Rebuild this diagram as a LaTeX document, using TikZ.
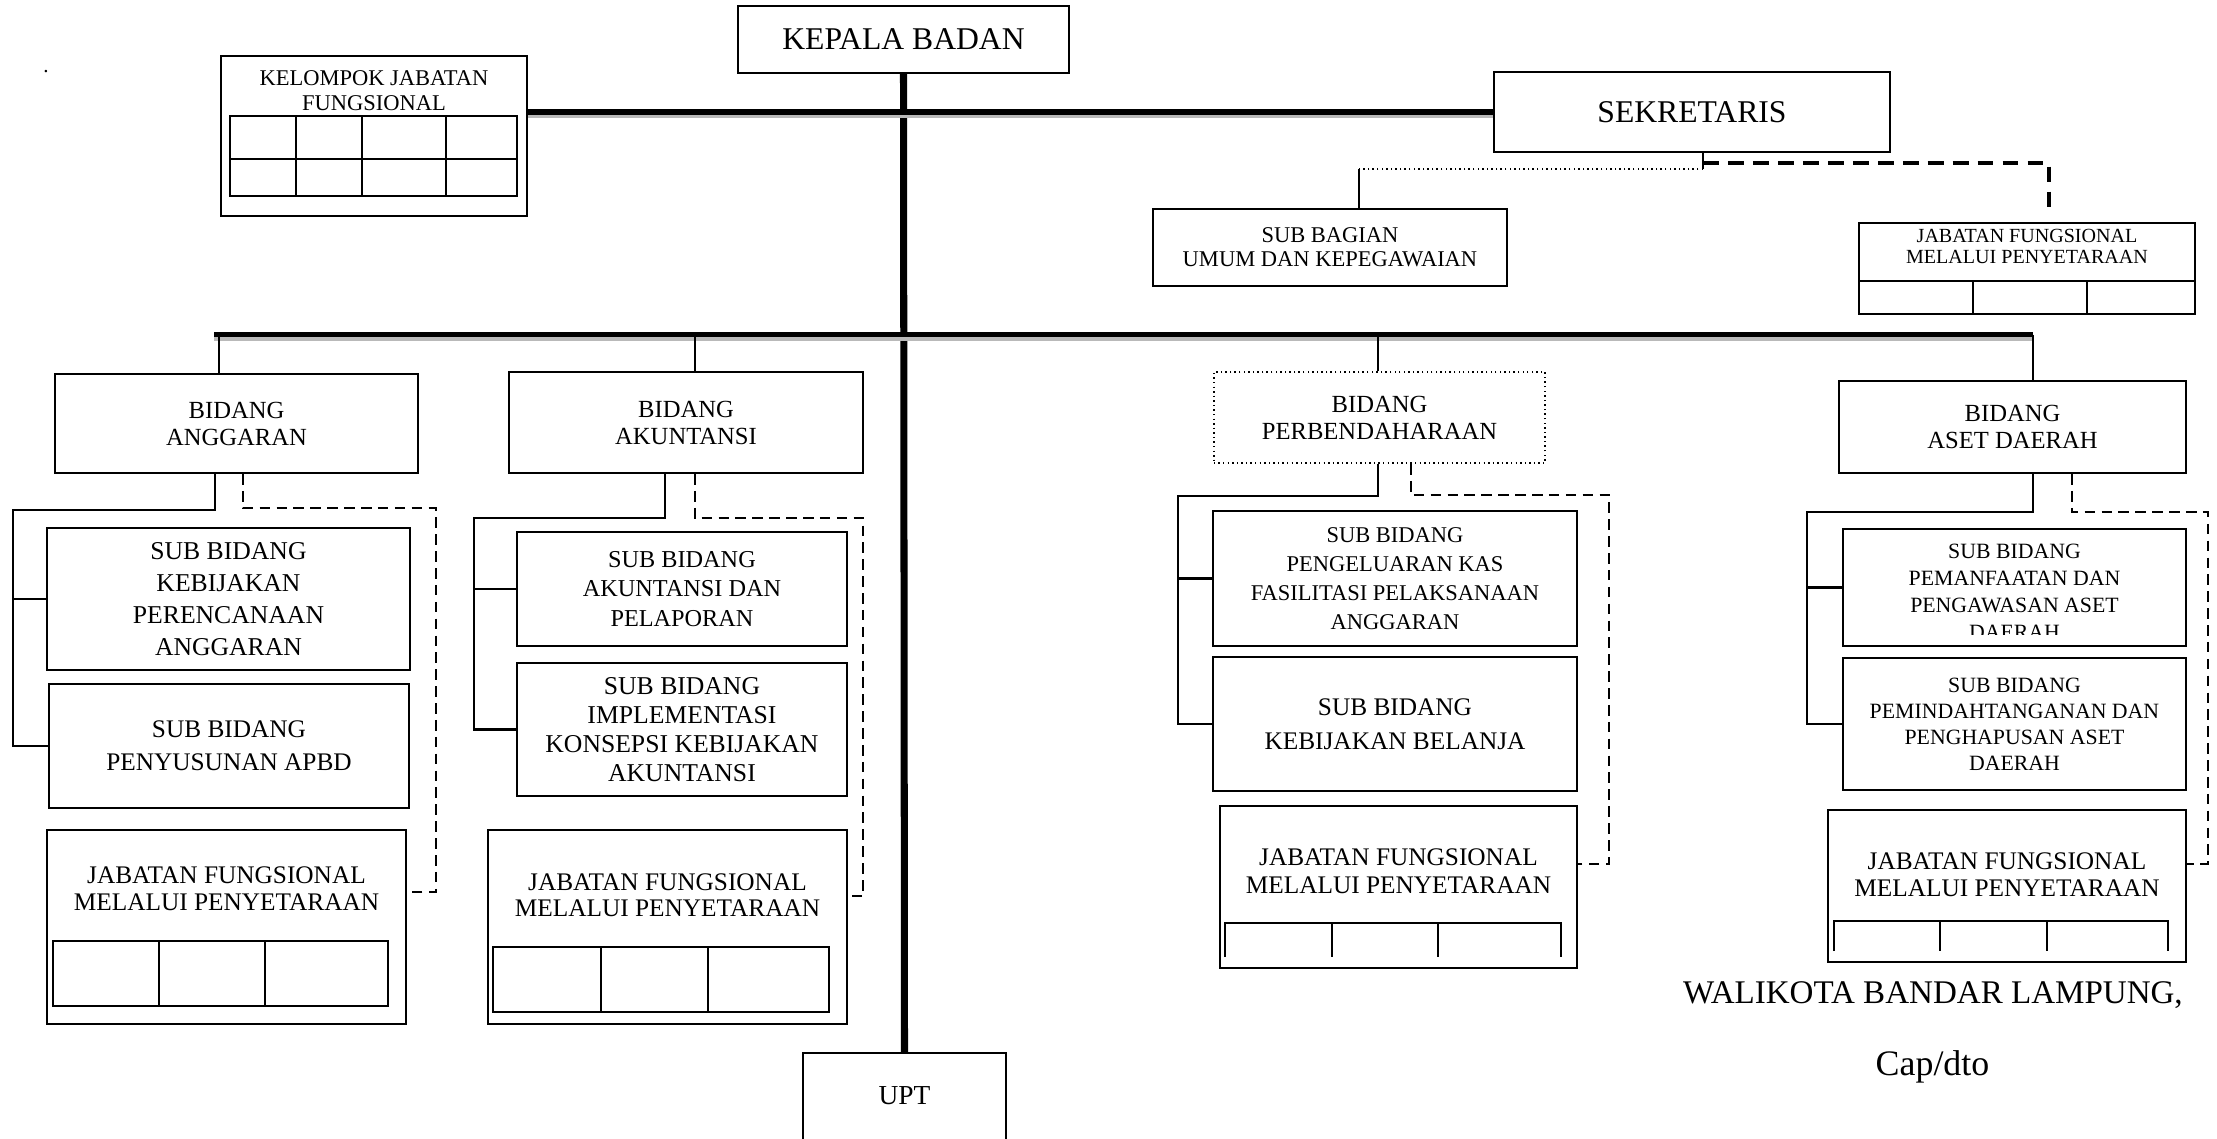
\documentclass[tikz,border=0pt]{standalone}
\usepackage{fontspec}
\setmainfont{Liberation Serif}
\usetikzlibrary{positioning}

\tikzset{
  orgbox/.style={draw, line width=0.6pt, inner sep=0pt, align=center, fill=white},
  dotbox/.style={orgbox, dash pattern=on 0.4pt off 0.9pt},
  txt/.style={inner sep=0pt, align=center},
  fs/.style 2 args={font=\fontsize{#1}{#2}\selectfont},
  conn/.style={line width=0.6pt},
  dashconn/.style={line width=0.6pt, dash pattern=on 3pt off 1.8pt},
  dashthick/.style={line width=0.9pt, dash pattern=on 4.5pt off 2.6pt},
  dotconn/.style={line width=0.5pt, dash pattern=on 0.4pt off 0.9pt},
  mainline/.style={line width=2pt},
  barblack/.style={line width=1.6pt},
  bargray/.style={line width=1pt, gray!55},
  gridline/.style={line width=0.6pt}
}

\begin{document}
\begin{tikzpicture}[x=0.01cm, y=-0.01cm]
\clip (0,0) rectangle (2217,1138);
\fill[white] (0,0) rectangle (2217,1138);

% top level
\node[orgbox, fs={9}{11}, minimum width=3.31cm, minimum height=0.67cm] (kepala) at (903.5,39.5) {KEPALA BADAN};
\node[orgbox, fs={9}{11}, minimum width=3.96cm, minimum height=0.80cm] (sek) at (1692,112) {SEKRETARIS};
\node[orgbox, minimum width=3.06cm, minimum height=1.60cm] (kelompok) at (374,136) {};
\node[txt, fs={6.4}{7.1}] (kelompoktxt) at (374,90.5) {KELOMPOK JABATAN\\FUNGSIONAL};
\draw[gridline] (230,116) rectangle (517,196) (230,159) -- (517,159);
\foreach \gx in {296,362,446}
  \draw[gridline] (\gx,116) -- (\gx,196);
\node[txt, fs={6}{7}] (titik) at (46,72) {.};

% sekretariat
\node[orgbox, fs={6.4}{6.8}, minimum width=3.54cm, minimum height=0.77cm] (subbag) at (1330,247.5) {SUB BAGIAN\\UMUM DAN KEPEGAWAIAN};
\node[orgbox, minimum width=3.36cm, minimum height=0.91cm] (jfsek) at (2027,268.5) {};
\node[txt, fs={5.7}{6}] (jfsektxt) at (2027,246.5) {JABATAN FUNGSIONAL\\MELALUI PENYETARAAN};
\draw[gridline] (1859,281) -- (2195,281);
\foreach \gx in {1973,2087}
  \draw[gridline] (\gx,281) -- (\gx,314);

% bidang
\node[orgbox, fs={7}{7.7}, minimum width=3.63cm, minimum height=0.99cm] (ang) at (236.5,423.5) {BIDANG\\ANGGARAN};
\node[orgbox, fs={7}{7.7}, minimum width=3.54cm, minimum height=1.01cm] (akt) at (686,422.5) {BIDANG\\AKUNTANSI};
\node[dotbox, fs={7}{7.7}, minimum width=3.31cm, minimum height=0.91cm] (perb) at (1379.5,417.5) {BIDANG\\PERBENDAHARAAN};
\node[orgbox, fs={7}{7.7}, minimum width=3.47cm, minimum height=0.92cm] (aset) at (2012.5,427) {BIDANG\\ASET DAERAH};

% sub bidang anggaran
\node[orgbox, fs={7.3}{9.1}, minimum width=3.63cm, minimum height=1.42cm] (sbang1) at (228.5,599) {SUB BIDANG\\KEBIJAKAN\\PERENCANAAN\\ANGGARAN};
\node[orgbox, fs={7.2}{9.4}, minimum width=3.60cm, minimum height=1.24cm] (sbang2) at (229,746) {SUB BIDANG\\PENYUSUNAN APBD};
\node[orgbox, minimum width=3.59cm, minimum height=1.94cm] (jfang) at (226.5,927) {};
\node[txt, fs={7.2}{7.7}] (jfangtxt) at (226.5,888.5) {JABATAN FUNGSIONAL\\MELALUI PENYETARAAN};
\draw[gridline] (53,941) rectangle (388,1006);
\foreach \gx in {159,265}
  \draw[gridline] (\gx,941) -- (\gx,1006);

% sub bidang akuntansi
\node[orgbox, fs={6.9}{8.5}, minimum width=3.30cm, minimum height=1.14cm] (sbakt1) at (682,589) {SUB BIDANG\\AKUNTANSI DAN\\PELAPORAN};
\node[orgbox, fs={7.3}{8.3}, minimum width=3.30cm, minimum height=1.33cm] (sbakt2) at (682,729.5) {SUB BIDANG\\IMPLEMENTASI\\KONSEPSI KEBIJAKAN\\AKUNTANSI};
\node[orgbox, minimum width=3.59cm, minimum height=1.94cm] (jfakt) at (667.5,927) {};
\node[txt, fs={7.2}{7.5}] (jfakttxt) at (667.5,895) {JABATAN FUNGSIONAL\\MELALUI PENYETARAAN};
\draw[gridline] (493,947) rectangle (829,1012);
\foreach \gx in {601,708}
  \draw[gridline] (\gx,947) -- (\gx,1012);

% sub bidang perbendaharaan
\node[orgbox, fs={6.4}{8.3}, minimum width=3.64cm, minimum height=1.35cm] (sbperb1) at (1395,578.5) {SUB BIDANG\\PENGELUARAN KAS\\FASILITASI PELAKSANAAN\\ANGGARAN};
\node[orgbox, fs={7.2}{9.7}, minimum width=3.64cm, minimum height=1.34cm] (sbperb2) at (1395,724) {SUB BIDANG\\KEBIJAKAN BELANJA};
\node[orgbox, minimum width=3.57cm, minimum height=1.62cm] (jfperb) at (1398.5,887) {};
\node[txt, fs={7.2}{8}] (jfperbtxt) at (1398.5,871) {JABATAN FUNGSIONAL\\MELALUI PENYETARAAN};
\draw[gridline] (1225,957) -- (1225,923) -- (1561,923) -- (1561,957);
\foreach \gx in {1332,1438}
  \draw[gridline] (\gx,923) -- (\gx,957);

% sub bidang aset daerah
\node[orgbox, minimum width=3.43cm, minimum height=1.17cm] (sbaset1) at (2014.5,587.5) {};
\begin{scope}
  \clip (1843,529) rectangle (2186,634);
  \node[txt, fs={6.2}{7.7}] (sbaset1txt) at (2014.5,592) {SUB BIDANG\\PEMANFAATAN DAN\\PENGAWASAN ASET\\DAERAH};
\end{scope}
\node[orgbox, fs={6.2}{7.4}, minimum width=3.43cm, minimum height=1.32cm] (sbaset2) at (2014.5,724) {SUB BIDANG\\PEMINDAHTANGANAN DAN\\PENGHAPUSAN ASET\\DAERAH};
\node[orgbox, minimum width=3.58cm, minimum height=1.52cm] (jfaset) at (2007,886) {};
\node[txt, fs={7.2}{7.7}] (jfasettxt) at (2007,874.5) {JABATAN FUNGSIONAL\\MELALUI PENYETARAAN};
\draw[gridline] (1834,951) -- (1834,921) -- (2168,921) -- (2168,951);
\foreach \gx in {1940,2047}
  \draw[gridline] (\gx,921) -- (\gx,951);

% upt
\node[orgbox, minimum width=2.03cm, minimum height=1.10cm] (upt) at (904.5,1108) {};
\node[txt, fs={7.8}{9}] (upttxt) at (904.5,1096) {UPT};

% signature
\node[txt, fs={9.4}{11}] (walikota) at (1933,995) {WALIKOTA BANDAR LAMPUNG,};
\node[txt, fs={10.2}{12}] (capdto) at (1932.5,1067) {Cap/dto};

% main lines
\draw[mainline] (kepala.south) -- (upt.north);
\coordinate (topbar) at (903.5,112);
\draw[barblack] (kelompok.east |- topbar) -- (sek.west);
\draw[bargray] ([yshift=-0.45mm]kelompok.east |- topbar) -- ([yshift=-0.45mm]sek.west);
\coordinate (lbL) at (214,334.5);
\coordinate (lbR) at (2033,334.5);
\draw[barblack] (lbL) -- (lbR);
\draw[bargray] ([yshift=-0.45mm]lbL) -- ([yshift=-0.45mm]lbR);
\draw[conn] (219,0 |- lbL) -- (219,0 |- ang.north);
\draw[conn] (695,0 |- lbL) -- (695,0 |- akt.north);
\draw[conn] (1378,0 |- lbL) -- (1378,0 |- perb.north);
\draw[conn] (lbR) -- (lbR |- aset.north);

% sekretaris branches
\coordinate (sekdrop) at (1703,169);
\coordinate (sbdrop) at (1359,169);
\coordinate (jfsekend) at (2049,213);
\draw[conn] (sekdrop |- sek.south) -- (sekdrop);
\draw[dotconn] (sekdrop) -- (sbdrop);
\draw[conn] (sbdrop) -- (sbdrop |- subbag.north);
\draw[dashthick] ([yshift=0.6mm]sekdrop) -| (jfsekend);

% anggaran branches
\coordinate (angbr) at (13,510);
\coordinate (angdash) at (436,508);
\draw[conn] (215,0 |- ang.south) |- (angbr) |- (sbang2.west);
\draw[conn] (angbr |- sbang1.west) -- (sbang1.west);
\draw[dashconn] (243,0 |- ang.south) |- (angdash) |- ([yshift=3.5mm]jfang.east);

% akuntansi branches
\coordinate (aktbr) at (474,518);
\coordinate (aktdash) at (863,518);
\draw[conn] (665,0 |- akt.south) |- (aktbr) |- (sbakt2.west);
\draw[conn] (aktbr |- sbakt1.west) -- (sbakt1.west);
\draw[dashconn] (695,0 |- akt.south) |- (aktdash) |- ([yshift=3.1mm]jfakt.east);

% perbendaharaan branches
\coordinate (perbbr) at (1178,496);
\coordinate (perbdash) at (1609,495);
\draw[conn] (1378,0 |- perb.south) |- (perbbr) |- (sbperb2.west);
\draw[conn] (perbbr |- sbperb1.west) -- (sbperb1.west);
\draw[dashconn] (1411,0 |- perb.south) |- (perbdash) |- ([yshift=2.3mm]jfperb.east);

% aset daerah branches
\coordinate (asetbr) at (1807,512);
\coordinate (asetdash) at (2208,512);
\draw[conn] (lbR |- aset.south) |- (asetbr) |- (sbaset2.west);
\draw[conn] (asetbr |- sbaset1.west) -- (sbaset1.west);
\draw[dashconn] (2072,0 |- aset.south) |- (asetdash) |- ([yshift=2.2mm]jfaset.east);
\end{tikzpicture}
\end{document}
